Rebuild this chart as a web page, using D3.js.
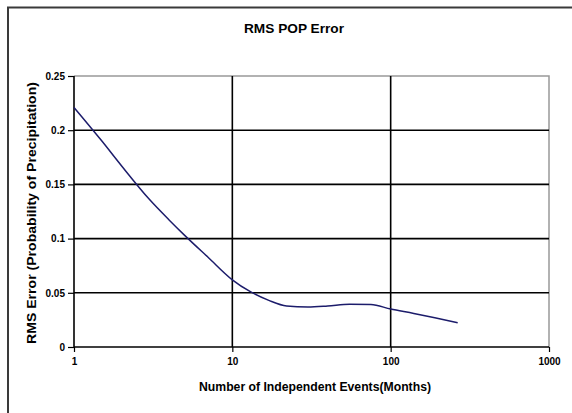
<!DOCTYPE html>
<html><head><meta charset="utf-8">
<script src="https://cdn.jsdelivr.net/npm/d3@7"></script>
<style>html,body{margin:0;padding:0;background:#fff;}svg{display:block;}</style>
</head><body>
<svg id="chart" width="572" height="413"></svg>
<script>
const titleText = "RMS POP Error";
const xLabel = "Number of Independent Events(Months)";
const yLabel = "RMS Error (Probability of Precipitation)";
const months = [1, 1.5, 2, 3, 4, 5, 7, 10, 13, 17, 22, 30, 40, 55, 75, 100, 140, 190, 265];
const rmsError = [0.221, 0.190, 0.167, 0.136, 0.117, 0.103, 0.083, 0.062, 0.051, 0.043, 0.0378, 0.0368, 0.0378, 0.0395, 0.0392, 0.035, 0.031, 0.027, 0.0224];
const xTicks = [1, 10, 100, 1000];
const yTicks = [0, 0.05, 0.1, 0.15, 0.2, 0.25];

const svg = d3.select("#chart");
const L = 74, R = 549, T = 76, B = 347;
const x = d3.scaleLog().domain([1, 1000]).range([L, R]);
const y = d3.scaleLinear().domain([0, 0.25]).range([B, T]);
const font = "'Liberation Sans', Arial, sans-serif";

// outer chart border (cropped at right and bottom)
svg.append("path").attr("d", "M8,413 V7.5 H572").attr("fill", "none")
  .attr("stroke", "#3a3a3a").attr("stroke-width", 2);

// plot area border (gray top/right)
svg.append("path").attr("d", `M${L},${T} H${R} V${B}`).attr("fill", "none")
  .attr("stroke", "#999").attr("stroke-width", 1.5);

// gridlines
svg.append("g").selectAll("line").data(yTicks.filter(d => d > 0 && d < 0.25)).join("line")
  .attr("x1", L).attr("x2", R).attr("y1", d => y(d)).attr("y2", d => y(d))
  .attr("stroke", "#000").attr("stroke-width", 1.6);
svg.append("g").selectAll("line").data(xTicks.filter(d => d > 1 && d < 1000)).join("line")
  .attr("y1", T).attr("y2", B).attr("x1", d => x(d)).attr("x2", d => x(d))
  .attr("stroke", "#000").attr("stroke-width", 1.6);

// axes
const yAxis = d3.axisLeft(y).tickValues(yTicks).tickSize(6).tickPadding(3)
  .tickFormat(d => d === 0 ? "0" : String(d));
const gy = svg.append("g").attr("transform", `translate(${L},0)`).call(yAxis);
const xAxis = d3.axisBottom(x).tickValues(xTicks).tickSize(5).tickPadding(6)
  .tickFormat(d => String(d));
const gx = svg.append("g").attr("transform", `translate(0,${B})`).call(xAxis);
[gy, gx].forEach(g => {
  g.select(".domain").attr("stroke", "#000").attr("stroke-width", 1.6);
  g.selectAll(".tick line").attr("stroke", "#000").attr("stroke-width", 1.2);
  g.selectAll("text").attr("font-family", font).attr("font-size", 10)
    .attr("font-weight", "bold").attr("fill", "#000");
});
gx.select(".domain").attr("d", `M${L},0H${R}`);
gy.select(".domain").attr("d", `M0,${B}V${T}`);

// line
const line = d3.line().x((d, i) => x(months[i])).y(d => y(d)).curve(d3.curveMonotoneX);
svg.append("path").datum(rmsError).attr("d", line).attr("fill", "none")
  .attr("stroke", "#1c1c6b").attr("stroke-width", 1.5);

// titles
svg.append("text").attr("x", 294).attr("y", 33).attr("text-anchor", "middle")
  .attr("font-family", font).attr("font-size", 13).attr("font-weight", "bold")
  .attr("textLength", 100).attr("lengthAdjust", "spacingAndGlyphs").text(titleText);
svg.append("text").attr("x", 315).attr("y", 391).attr("text-anchor", "middle")
  .attr("font-family", font).attr("font-size", 12).attr("font-weight", "bold")
  .attr("textLength", 232).attr("lengthAdjust", "spacingAndGlyphs").text(xLabel);
svg.append("text").attr("transform", "translate(36,213) rotate(-90)").attr("text-anchor", "middle")
  .attr("font-family", font).attr("font-size", 12).attr("font-weight", "bold")
  .attr("textLength", 262).attr("lengthAdjust", "spacingAndGlyphs").text(yLabel);
</script>
</body></html>
